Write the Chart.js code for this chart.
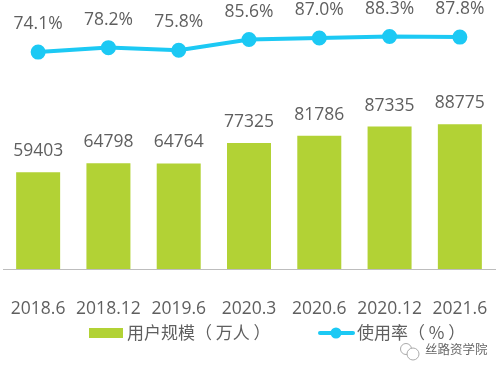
<!DOCTYPE html>
<html><head><meta charset="utf-8">
<script src="https://cdn.jsdelivr.net/npm/chart.js@4/dist/chart.umd.min.js"></script>
<style>
html,body{margin:0;padding:0;background:#fff;}
#wrap{position:relative;width:500px;height:372px;overflow:hidden;}
#wm{position:absolute;left:425px;top:341px;font:12.5px "Noto Sans CJK SC",sans-serif;color:#666;line-height:16px;white-space:nowrap;}
#ic{position:absolute;left:399px;top:342px;}
</style></head><body>
<div id="wrap"><canvas id="c" width="500" height="372"></canvas>
<svg id="ic" width="22" height="20"><circle cx="7" cy="7" r="5.5" fill="#fff" stroke="#aaa" stroke-width="1"/><circle cx="14" cy="12" r="6" fill="#fff" stroke="#aaa" stroke-width="1"/></svg>
<div id="wm">丝路资学院</div></div>
<script>
const categories=["2018.6","2018.12","2019.6","2020.3","2020.6","2020.12","2021.6"];
const userScale=[59403,64798,64764,77325,81786,87335,88775];
const usageRate=[74.1,78.2,75.8,85.6,87.0,88.3,87.8];
const seriesNames=["用户规模（ 万人 ）","使用率（ % ）"];
const textFont='"Open Sans","Noto Sans CJK SC",sans-serif';
const BAR='#b2d235',LINE='#1cc9f4',TXT='#5f5f5f';
const valueLabels={id:'valueLabels',afterDatasetsDraw(ch){
  const g=ch.ctx;g.save();g.font='17.5px '+textFont;g.fillStyle=TXT;g.textAlign='center';g.textBaseline='middle';
  ch.getDatasetMeta(0).data.forEach((el,i)=>g.fillText(String(userScale[i]),el.x,el.y-21));
  ch.getDatasetMeta(1).data.forEach((el,i)=>g.fillText(usageRate[i].toFixed(1)+'%',el.x,el.y-28));
  // legend
  const cy=333;
  g.textAlign='left';g.font='17px "Noto Sans CJK SC",sans-serif';
  g.fillStyle=BAR;g.fillRect(89,cy-5,34,10);
  g.fillStyle=TXT;g.fillText(seriesNames[0],127,cy);
  g.strokeStyle=LINE;g.lineWidth=4;g.lineCap='round';g.beginPath();g.moveTo(320,cy);g.lineTo(353,cy);g.stroke();
  g.fillStyle=LINE;g.beginPath();g.arc(336,cy,5.5,0,Math.PI*2);g.fill();
  g.fillStyle=TXT;g.fillText(seriesNames[1],357,cy);
  g.restore();
}};
new Chart(document.getElementById('c'),{
  data:{labels:categories,datasets:[
    {type:'bar',label:seriesNames[0],data:userScale,backgroundColor:BAR,yAxisID:'y',categoryPercentage:1,barPercentage:0.626,order:2},
    {type:'line',label:seriesNames[1],data:usageRate,borderColor:LINE,backgroundColor:LINE,borderWidth:4,pointRadius:5.5,pointHoverRadius:5.5,yAxisID:'y1',tension:0,order:1}
  ]},
  options:{responsive:false,animation:false,
    layout:{autoPadding:false,padding:{left:3,right:5,top:0,bottom:55}},
    plugins:{tooltip:{enabled:false},legend:{display:false}},
    scales:{
      x:{grid:{display:false,drawTicks:false},border:{display:true,color:'#bdbdbd',width:1},
         afterFit(s){s.paddingLeft=0;s.paddingRight=0;s.height=48;},
         ticks:{font:{size:17.5,family:textFont},color:TXT,padding:30,maxRotation:0,autoSkip:false}},
      y:{display:false,min:0,max:165000},
      y1:{display:false,min:-124,max:121.7}
    }},
  plugins:[valueLabels]
});
</script></body></html>
